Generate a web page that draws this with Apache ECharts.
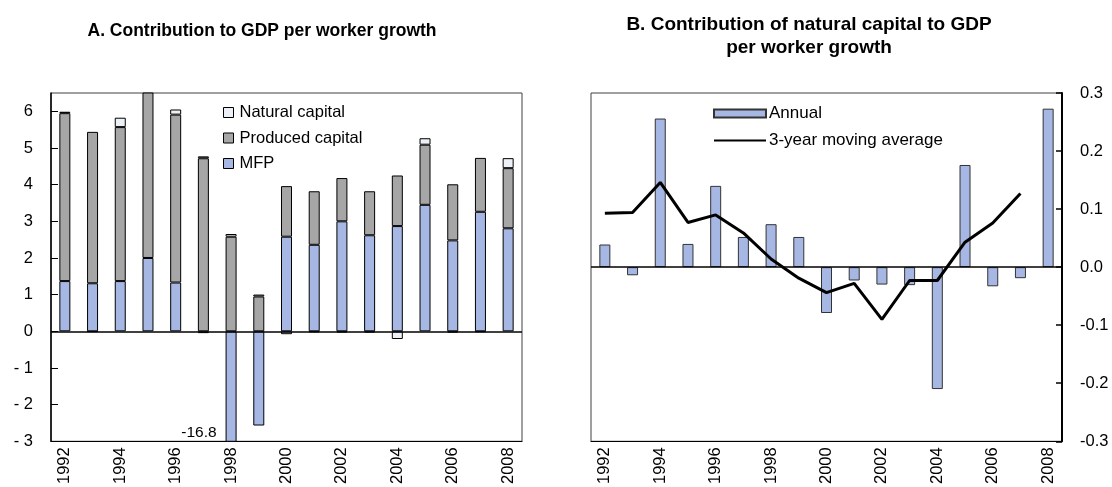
<!DOCTYPE html>
<html>
<head>
<meta charset="utf-8">
<script src="https://cdn.jsdelivr.net/npm/echarts@6/dist/echarts.min.js"></script>
<style>
  html, body { margin: 0; padding: 0; background: #fff; }
  #main { width: 1112px; height: 487px; }
</style>
</head>
<body>
<div id="main"></div>
<script>
// data
var years = ['1992', '1993', '1994', '1995', '1996', '1997', '1998', '1999', '2000',
  '2001', '2002', '2003', '2004', '2005', '2006', '2007', '2008'];
// panel A: contributions to GDP per worker growth (%)
var mfp = [1.37, 1.31, 1.37, 2.0, 1.33, -0.05, -16.8, -2.57, 2.58, 2.36, 3.0, 2.62, 2.87, 3.45, 2.48, 3.26, 2.81];
var produced = [4.58, 4.13, 4.20, 4.7, 4.58, 4.72, 2.58, 0.95, 1.38, 1.46, 1.18, 1.20, 1.38, 1.64, 1.53, 1.47, 1.64];
// natural capital contribution (used in both panels)
var natural = [0.039, -0.014, 0.256, 0.040, 0.140, 0.052, 0.074, 0.052, -0.079, -0.023,
  -0.030, -0.031, -0.21, 0.176, -0.033, -0.019, 0.273];
// panel B: 3-year moving average (ends 2007)
var movingAvg = [0.093, 0.094, 0.146, 0.077, 0.090, 0.059, 0.014, -0.019, -0.044, -0.028,
  -0.090, -0.023, -0.023, 0.043, 0.076, 0.127];

var FONT = "'Liberation Sans', Arial, sans-serif";
var BLUE = '#a7b7e3';
var GREY = '#a6a6a6';
var WHITE = '#eef0f8';

var chart = echarts.init(document.getElementById('main'), null, { renderer: 'canvas' });

function xAxisFor(gridIndex) {
  return {
    type: 'category',
    gridIndex: gridIndex,
    data: years,
    axisLine: { onZero: false, lineStyle: { color: '#000', width: 1 } },
    axisTick: { show: false },
    axisLabel: {
      interval: 1,
      rotate: 90,
      margin: 6,
      color: '#000',
      fontSize: 16.5,
      fontFamily: FONT
    },
    splitLine: { show: false }
  };
}

var zeroLine = {
  silent: true,
  symbol: 'none',
  label: { show: false },
  lineStyle: { color: '#000', width: 1.5, type: 'solid' },
  data: [{ yAxis: 0 }]
};

var option = {
  animation: false,
  textStyle: { fontFamily: FONT },
  title: [
    {
      text: 'A. Contribution to GDP per worker growth',
      left: 262, top: 22, padding: 0,
      textAlign: 'center',
      textStyle: { fontSize: 17.5, fontWeight: 'bold', color: '#000', fontFamily: FONT }
    },
    {
      text: 'B. Contribution of natural capital to GDP\nper worker growth',
      left: 809, top: 14, padding: 0,
      textAlign: 'center',
      textStyle: { fontSize: 19, fontWeight: 'bold', color: '#000', lineHeight: 22.5, fontFamily: FONT }
    }
  ],
  legend: [
    {
      orient: 'vertical',
      left: 223, top: 104, padding: 0,
      itemWidth: 10, itemHeight: 10, itemGap: 8.5,
      icon: 'rect',
      data: ['Natural capital', 'Produced capital', 'MFP'],
      textStyle: { fontSize: 16.5, color: '#000', fontFamily: FONT, padding: [0, 0, 0, 1] },
      itemStyle: { borderColor: '#000', borderWidth: 1 }
    },
    {
      orient: 'vertical',
      left: 713, top: 105, padding: 0,
      itemWidth: 52, itemHeight: 8, itemGap: 10,
      data: [
        { name: 'Annual', icon: 'rect' },
        { name: '3-year moving average', itemStyle: { opacity: 0 } }
      ],
      textStyle: { fontSize: 17, color: '#000', fontFamily: FONT, padding: [0, 0, 0, -2] }
    }
  ],
  grid: [
    { left: 51, right: 590, top: 93, bottom: 43, show: true, borderColor: '#404040', borderWidth: 1 },
    { left: 591, right: 50, top: 93, bottom: 43, show: true, borderColor: '#404040', borderWidth: 1 }
  ],
  xAxis: [xAxisFor(0), xAxisFor(1)],
  yAxis: [
    {
      type: 'value',
      gridIndex: 0,
      min: -3, max: 6.5, interval: 1,
      axisLine: { show: true, onZero: false, lineStyle: { color: '#000', width: 1.5 } },
      axisTick: { show: true, inside: true, length: 7, lineStyle: { color: '#000' } },
      axisLabel: {
        showMaxLabel: false,
        margin: 18,
        color: '#000',
        fontSize: 16.5,
        fontFamily: FONT,
        formatter: function (v) { return v < 0 ? '- ' + (-v) : String(v); }
      },
      splitLine: { show: false }
    },
    {
      type: 'value',
      gridIndex: 1,
      position: 'right',
      min: -0.3, max: 0.3, interval: 0.1,
      axisLine: { show: true, onZero: false, lineStyle: { color: '#000', width: 2 } },
      axisTick: { show: true, inside: true, length: 6, lineStyle: { color: '#000', width: 1.5 } },
      axisLabel: {
        margin: 18,
        color: '#000',
        fontSize: 16.5,
        fontFamily: FONT,
        formatter: function (v) { return v.toFixed(1); }
      },
      splitLine: { show: false }
    }
  ],
  series: [
    {
      name: 'MFP',
      type: 'bar',
      stack: 'a',
      xAxisIndex: 0, yAxisIndex: 0,
      barWidth: 11,
      data: mfp.map(function (v) {
        if (v < -3) {
          return {
            value: v,
            label: {
              show: true,
              position: [-9, '92%'],
              align: 'right',
              verticalAlign: 'middle',
              color: '#000',
              fontSize: 15.5,
              fontFamily: FONT,
              formatter: '{c}'
            }
          };
        }
        return v;
      }),
      itemStyle: { color: BLUE, borderColor: '#000', borderWidth: 1 },
      markLine: zeroLine,
      z: 2
    },
    {
      name: 'Produced capital',
      type: 'bar',
      stack: 'a',
      xAxisIndex: 0, yAxisIndex: 0,
      barWidth: 11,
      data: produced,
      itemStyle: { color: GREY, borderColor: '#000', borderWidth: 1 },
      z: 2
    },
    {
      name: 'Natural capital',
      type: 'bar',
      stack: 'a',
      xAxisIndex: 0, yAxisIndex: 0,
      barWidth: 11,
      data: natural,
      itemStyle: { color: WHITE, borderColor: '#000', borderWidth: 1 },
      z: 2
    },
    {
      name: 'Annual',
      type: 'bar',
      xAxisIndex: 1, yAxisIndex: 1,
      barWidth: 11,
      data: natural,
      itemStyle: { color: BLUE, borderColor: '#333', borderWidth: 1 },
      markLine: zeroLine,
      z: 2
    },
    {
      name: '3-year moving average',
      type: 'line',
      xAxisIndex: 1, yAxisIndex: 1,
      data: movingAvg,
      symbol: 'none',
      showSymbol: false,
      lineStyle: { color: '#000', width: 3 },
      itemStyle: { color: '#000' },
      z: 3
    }
  ]
};

chart.setOption(option);
</script>
</body>
</html>
